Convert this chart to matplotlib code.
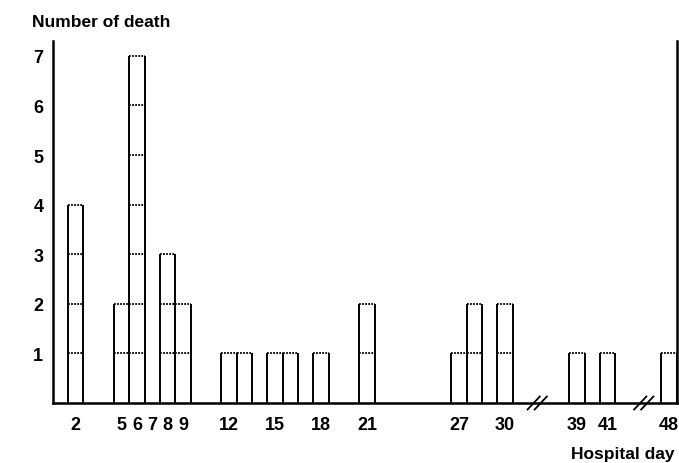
import matplotlib
matplotlib.use("Agg")
import matplotlib.pyplot as plt
import matplotlib.transforms as mtransforms

# deaths per hospital day
DAYS = [2, 5, 6, 8, 9, 12, 13, 15, 16, 18, 21, 27, 28, 30, 39, 41, 48]
DEATHS = [4, 2, 7, 3, 2, 1, 1, 1, 1, 1, 2, 1, 2, 2, 1, 1, 1]
TICK_DAYS = [2, 5, 6, 7, 8, 9, 12, 15, 18, 21, 27, 30, 39, 41, 48]
Y_TICKS = [1, 2, 3, 4, 5, 6, 7]
BREAK_AFTER = [30, 41]


def axis_pos(day):
    # broken x axis: compress the gaps after day 30 and day 41
    if day > 41:
        return day - 7.3
    if day > 30:
        return day - 4.3
    return day


plt.rcParams["font.family"] = ["Liberation Sans", "DejaVu Sans"]
plt.rcParams["font.weight"] = "bold"

fig = plt.figure(figsize=(6.79, 4.64), dpi=100)
ax = fig.add_axes([0.0781, 0.1293, 0.919, 0.7802])

lw = 1.4
for day, n in zip(DAYS, DEATHS):
    x = axis_pos(day)
    ax.bar(x, n, width=1.0, facecolor="white", edgecolor="none", zorder=1)
    ax.vlines([x - 0.5, x + 0.5], 0, n, color="black", lw=lw, zorder=3)
    ax.hlines(range(1, n + 1), x - 0.5, x + 0.5, color="black", lw=1.3,
              linestyles=(0, (1.0, 0.7)), zorder=2)

ax.set_xlim(0.52, 41.22)
ax.set_ylim(0, 7.3)

ax.set_xticks([axis_pos(d) for d in TICK_DAYS])
ax.set_xticklabels([str(d) for d in TICK_DAYS])
ax.set_yticks(Y_TICKS)
ax.tick_params(axis="x", length=0, pad=9, labelsize=13)
ax.tick_params(axis="y", length=0, pad=7, labelsize=13)
for lab in ax.get_xticklabels() + ax.get_yticklabels():
    lab.set_fontweight("bold")

for side in ["left", "right", "bottom"]:
    ax.spines[side].set_linewidth(1.8)
ax.spines["top"].set_visible(False)

# "//" break marks on the x axis
trans = mtransforms.blended_transform_factory(ax.transData, ax.transAxes)
for d in BREAK_AFTER:
    xb = axis_pos(d) + 2.1 if d == 30 else axis_pos(d) + 2.35
    for off in (-0.23, 0.23):
        ax.plot([xb + off - 0.4, xb + off + 0.4], [-0.018, 0.018], color="black",
                lw=1.3, transform=trans, clip_on=False, zorder=5)

fig.text(0.047, 0.952, "Number of death", fontsize=12.5, fontweight="bold",
         va="center", ha="left")
fig.text(0.994, 0.02, "Hospital day", fontsize=12.5, fontweight="bold",
         va="center", ha="right")

fig.savefig("out.png", dpi=100)
